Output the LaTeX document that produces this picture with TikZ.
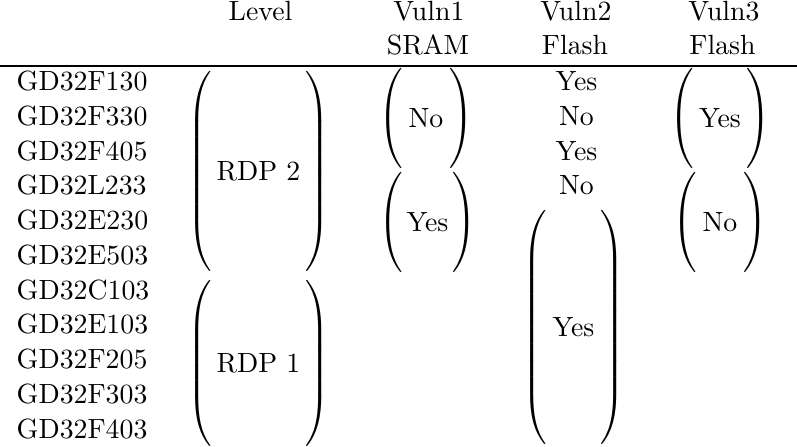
\documentclass[tikz,border=0pt]{standalone}

\delimiterfactor=1000
\delimitershortfall=0pt
\newcommand{\grp}[3]{$\left(\vcenter to #2{\vss\hbox to #1{\hss #3\hss}\vss}\right)$}

\begin{document}
\begin{tikzpicture}
[x=0.3597pt,
 y=-0.3597pt,
 every node/.style={inner sep=0pt, outer sep=0pt},
 head/.style={anchor=base},
 chip/.style={anchor=base west},
 cell/.style={anchor=base},
 group/.style={anchor=center},
]

\useasboundingbox (0,0) rectangle (797,447);

% header
\node[head] (level)  at (260.5,20.5) {Level};
\node[head] (vuln1)  at (429,20.5)   {Vuln1};
\node[head] (vuln2)  at (576,20.5)   {Vuln2};
\node[head] (vuln3)  at (724,20.5)   {Vuln3};
\node[head] (sram)   at (428,55)     {SRAM};
\node[head] (flash2) at (575,55)     {Flash};
\node[head] (flash3) at (722.5,55)   {Flash};

\coordinate (rule west) at (0,66);
\coordinate (rule east) at (797,66);
\draw[line width=0.4pt] (rule west) -- (rule east);

% chips
\node[chip] (f130) at (16.7,90.7)  {GD32F130};
\node[chip] (f330) at (16.7,125.5) {GD32F330};
\node[chip] (f405) at (16.7,160.2) {GD32F405};
\node[chip] (l233) at (16.7,195.0) {GD32L233};
\node[chip] (e230) at (16.7,229.7) {GD32E230};
\node[chip] (e503) at (16.7,264.5) {GD32E503};
\node[chip] (c103) at (16.7,299.3) {GD32C103};
\node[chip] (e103) at (16.7,334.0) {GD32E103};
\node[chip] (f205) at (16.7,368.8) {GD32F205};
\node[chip] (f303) at (16.7,403.5) {GD32F303};
\node[chip] (f403) at (16.7,438.3) {GD32F403};

% level
\node[group] (rdp2) at (258.5,171)   {\grp{33.8pt}{71pt}{RDP 2}};
\node[group] (rdp1) at (258.5,363.5) {\grp{33.8pt}{59pt}{RDP 1}};

% vuln1
\node[group] (sram no)  at (426,118)     {\grp{17pt}{35pt}{No}};
\node[group] (sram yes) at (427.5,222.5) {\grp{18pt}{35pt}{Yes}};

% vuln2
\node[cell]  (f130 v2)  at (576.5,90.7)  {Yes};
\node[cell]  (f330 v2)  at (576.5,125.5) {No};
\node[cell]  (f405 v2)  at (576.5,160.2) {Yes};
\node[cell]  (l233 v2)  at (576.5,195.0) {No};
\node[group] (flash yes) at (573.5,327.5) {\grp{19.2pt}{83pt}{Yes}};

% vuln3
\node[group] (flash3 yes) at (720,118)   {\grp{18.8pt}{35pt}{Yes}};
\node[group] (flash3 no)  at (720,222.5) {\grp{16.7pt}{35pt}{No}};
\end{tikzpicture}
\end{document}
